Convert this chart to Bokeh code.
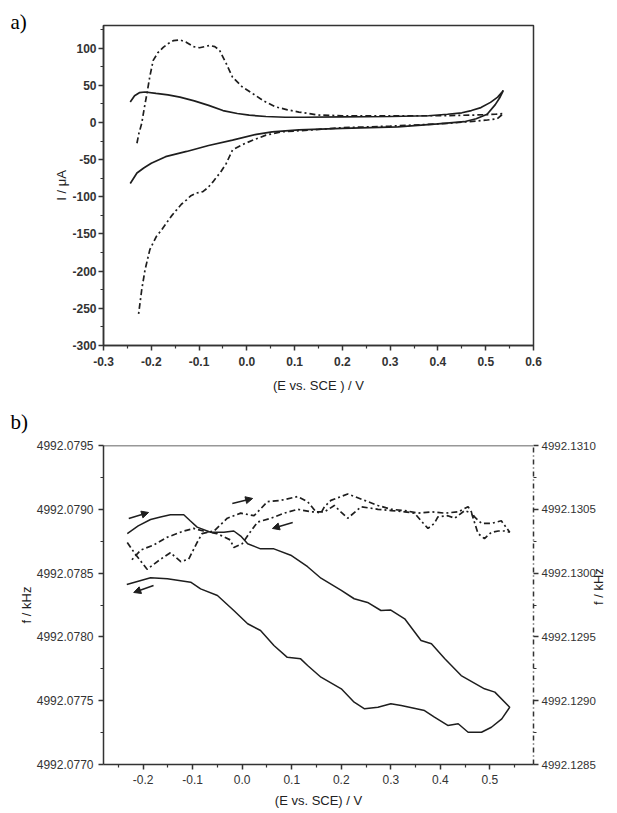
import math
from bokeh.plotting import figure
from bokeh.layouts import column
from bokeh.models import Range1d, LinearAxis, FixedTicker, Span, Title, Arrow, NormalHead
from bokeh.embed import file_html
from bokeh.resources import INLINE

# ---------------- data: panel a) cyclic voltammograms ----------------
cv_solid_E = [-0.244, -0.235, -0.225, -0.213, -0.19, -0.165, -0.14, -0.11, -0.08, -0.05, -0.02, 0.005,
              0.04, 0.08, 0.12, 0.2, 0.3, 0.38, 0.42, 0.45, 0.47, 0.49, 0.51, 0.525, 0.537,
              0.53, 0.52, 0.503, 0.48, 0.455, 0.4, 0.316, 0.2, 0.109, 0.053, 0.02, -0.03, -0.08,
              -0.126, -0.17, -0.2, -0.215, -0.23, -0.244]
cv_solid_I = [27.6, 36, 40, 41, 39, 37, 34, 29, 23, 16, 12, 9.8,
              8, 7, 7, 7.5, 8, 9, 11, 13, 16, 20, 27, 34, 43,
              34, 24, 11, 5, 1, -2, -6, -8, -10, -12.6, -16, -23.7, -31,
              -39, -46, -55, -61, -68, -82]

cv_dash_E = [-0.230, -0.226, -0.220, -0.215, -0.209, -0.203, -0.196, -0.186, -0.175, -0.165, -0.154,
             -0.14, -0.127, -0.112, -0.099, -0.088, -0.078, -0.067, -0.057, -0.043, -0.03, -0.01,
             0.012, 0.035, 0.06, 0.085, 0.109, 0.15, 0.2, 0.3, 0.4, 0.48, 0.52, 0.537,
             0.524, 0.5, 0.42, 0.3, 0.2, 0.15, 0.074, 0.04, 0.012, -0.01, -0.03, -0.043, -0.055,
             -0.064, -0.071, -0.082, -0.092, -0.106, -0.118, -0.126, -0.137, -0.147, -0.158,
             -0.168, -0.179, -0.189, -0.203, -0.213, -0.220, -0.227]
cv_dash_I = [-28, -15, -1.3, 18, 39, 62, 83.5, 94, 101, 106, 110,
             111, 108, 102, 100.5, 102, 103.6, 102, 97, 79, 61, 48,
             39, 29, 21, 17, 14, 10, 9, 9, 9, 10, 11, 12,
             5, 3, -1.3, -5, -7, -9.4, -12.6, -17, -24, -30, -37, -55, -67,
             -74, -80, -88, -93, -95, -99, -104, -110, -117.6, -126,
             -135, -145, -153, -171, -198, -225, -260]

# ---------------- data: panel b) EQCM frequency ----------------
f_solid_E = [-0.232, -0.21, -0.185, -0.165, -0.145, -0.118, -0.105, -0.091, -0.064, -0.037, -0.017,
             -0.003, 0.011, 0.037, 0.064, 0.098, 0.132, 0.159, 0.2, 0.226, 0.253, 0.28, 0.30, 0.328,
             0.361, 0.382, 0.409, 0.442, 0.489, 0.510, 0.540,
             0.524, 0.503, 0.483, 0.456, 0.436, 0.415, 0.388, 0.368, 0.321, 0.30, 0.274, 0.247,
             0.226, 0.2, 0.159, 0.132, 0.118, 0.091, 0.064, 0.037, 0.011, -0.017, -0.050, -0.084,
             -0.104, -0.151, -0.185, -0.233]
f_solid_kHz = [4992.07881, 4992.07887, 4992.07892, 4992.07894, 4992.078957, 4992.078957, 4992.07891,
               4992.07886, 4992.07882, 4992.07882, 4992.07883, 4992.07879, 4992.07873, 4992.07869,
               4992.07869, 4992.07864, 4992.07855, 4992.07846, 4992.078364, 4992.078299, 4992.07827,
               4992.078207, 4992.07821, 4992.078142, 4992.077972, 4992.077946, 4992.077828,
               4992.077697, 4992.077593, 4992.077567, 4992.077449,
               4992.077358, 4992.077292, 4992.077253, 4992.077253, 4992.077319, 4992.077306,
               4992.077371, 4992.077423, 4992.077462, 4992.077476, 4992.077449, 4992.077436,
               4992.077488, 4992.077593, 4992.077684, 4992.077776, 4992.077828, 4992.07784,
               4992.077933, 4992.07805, 4992.078103, 4992.078207, 4992.078324, 4992.078376,
               4992.078429, 4992.078455, 4992.078463, 4992.078411]

f_dash_E = [-0.232, -0.216, -0.192, -0.168, -0.145, -0.124, -0.108, -0.091, -0.081, -0.057, -0.030,
            -0.003, 0.024, 0.051, 0.078, 0.112, 0.132, 0.149, 0.159, 0.166, 0.179, 0.213, 0.247,
            0.274, 0.301, 0.328, 0.355, 0.382, 0.409, 0.436, 0.456, 0.469, 0.483, 0.503, 0.523, 0.540,
            0.530, 0.517, 0.503, 0.489, 0.476, 0.463, 0.449, 0.429, 0.415, 0.395, 0.388, 0.375,
            0.361, 0.348, 0.328, 0.301, 0.274, 0.240, 0.213, 0.199, 0.186, 0.166, 0.139, 0.112,
            0.085, 0.058, 0.031, 0.014, 0.0, -0.017, -0.024, -0.051, -0.078, -0.098, -0.118,
            -0.152, -0.179, -0.205, -0.226]
f_dash_kHz = [4992.13024, 4992.13015, 4992.13003, 4992.13010, 4992.13016, 4992.13009, 4992.13011,
              4992.13024, 4992.13031, 4992.13033, 4992.13043, 4992.13047, 4992.13045, 4992.13056,
              4992.13057, 4992.13060, 4992.13056, 4992.13048, 4992.13047, 4992.13052, 4992.13057,
              4992.13062, 4992.13057, 4992.13053, 4992.13050, 4992.13049, 4992.13047, 4992.13048,
              4992.13047, 4992.13048, 4992.13052, 4992.13044, 4992.13039, 4992.13039, 4992.13041,
              4992.13032,
              4992.13033, 4992.13033, 4992.13032, 4992.13027, 4992.13031, 4992.13047, 4992.13049,
              4992.13043, 4992.13045, 4992.13044, 4992.13039, 4992.13035, 4992.13041, 4992.13047,
              4992.13048, 4992.13049, 4992.13050, 4992.13052, 4992.13043, 4992.13048, 4992.13053,
              4992.13048, 4992.13048, 4992.13050, 4992.13047, 4992.13043, 4992.13040, 4992.13031,
              4992.13023, 4992.13020, 4992.13026, 4992.13031, 4992.13033, 4992.13035, 4992.13033,
              4992.13028, 4992.13022, 4992.13018, 4992.13009]

# scan-direction arrows (panel b, left-axis units)
arrow_x0 = [-0.229, -0.020, 0.102, -0.179]
arrow_y0 = [4992.078928, 4992.079045, 4992.078897, 4992.078403]
arrow_x1 = [-0.189, 0.021, 0.061, -0.219]
arrow_y1 = [4992.078975, 4992.079085, 4992.078850, 4992.078348]

# ---------------- ticks ----------------
a_xticks = [-0.3, -0.2, -0.1, 0.0, 0.1, 0.2, 0.3, 0.4, 0.5, 0.6]
a_xlabels = ["-0.3", "-0.2", "-0.1", "0.0", "0.1", "0.2", "0.3", "0.4", "0.5", "0.6"]
a_xminor = [-0.25, -0.15, -0.05, 0.05, 0.15, 0.25, 0.35, 0.45, 0.55]
a_yticks = [-300, -250, -200, -150, -100, -50, 0, 50, 100]
a_ylabels = ["-300", "-250", "-200", "-150", "-100", "-50", "0", "50", "100"]
a_yminor = [-275, -225, -175, -125, -75, -25, 25, 75, 125]

b_xticks = [-0.2, -0.1, 0.0, 0.1, 0.2, 0.3, 0.4, 0.5]
b_xlabels = ["-0.2", "-0.1", "0.0", "0.1", "0.2", "0.3", "0.4", "0.5"]
b_xminor = [-0.25, -0.15, -0.05, 0.05, 0.15, 0.25, 0.35, 0.45, 0.55]
b_lticks = [4992.0770, 4992.0775, 4992.0780, 4992.0785, 4992.0790, 4992.0795]
b_llabels = ["4992.0770", "4992.0775", "4992.0780", "4992.0785", "4992.0790", "4992.0795"]
b_lminor = [4992.07725, 4992.07775, 4992.07825, 4992.07875, 4992.07925]
b_rticks = [4992.1285, 4992.1290, 4992.1295, 4992.1300, 4992.1305, 4992.1310]
b_rlabels = ["4992.1285", "4992.1290", "4992.1295", "4992.1300", "4992.1305", "4992.1310"]
b_rminor = [4992.12875, 4992.12925, 4992.12975, 4992.13025, 4992.13075]

INK = "#1e1e1e"
AX = "#333333"
DASHDOT = "6 3 2 3"


def style_axis(ax, ticks, minor, labels, bold=False):
    ax.ticker = FixedTicker(ticks=ticks, minor_ticks=minor)
    ax.major_label_overrides = dict(zip(ticks, labels))
    ax.axis_line_color = AX
    ax.axis_line_width = 1.5
    ax.major_tick_line_color = AX
    ax.major_tick_line_width = 1.5
    ax.minor_tick_line_color = AX
    ax.minor_tick_line_width = 1.2
    ax.major_tick_out = 5
    ax.major_tick_in = 0
    ax.minor_tick_out = 3
    ax.minor_tick_in = 0
    ax.major_label_text_font = "Liberation Sans"
    ax.major_label_text_font_size = "12px"
    ax.major_label_text_font_style = "bold" if bold else "normal"
    ax.major_label_text_color = AX
    ax.major_label_standoff = 3
    ax.axis_label_text_font = "Liberation Sans"
    ax.axis_label_text_font_size = "13px"
    ax.axis_label_text_font_style = "normal"
    ax.axis_label_text_color = "#222222"


# ---------------- panel a ----------------
p1 = figure(width=617, height=395, x_range=Range1d(-0.3, 0.6), y_range=Range1d(-300, 130.4),
            output_backend="svg", toolbar_location=None,
            min_border_left=103, min_border_right=84, min_border_top=25, min_border_bottom=48)
p1.grid.visible = False
p1.outline_line_color = AX
p1.outline_line_width = 1.5
p1.outline_line_alpha = 1.0
p1.background_fill_color = "white"
p1.border_fill_color = "white"

p1.line(cv_solid_E, cv_solid_I, line_color=INK, line_width=1.7)
p1.line(cv_dash_E, cv_dash_I, line_color=INK, line_width=1.7, line_dash=DASHDOT)

style_axis(p1.xaxis[0], a_xticks, a_xminor, a_xlabels, bold=True)
style_axis(p1.yaxis[0], a_yticks, a_yminor, a_ylabels, bold=True)
p1.xaxis[0].axis_label = "(E vs. SCE ) / V"
p1.xaxis[0].major_label_standoff = 6
p1.xaxis[0].axis_label_standoff = 9
p1.yaxis[0].axis_label = "I / μA"
p1.yaxis[0].major_label_standoff = 2
p1.yaxis[0].axis_label_standoff = 0

p1.add_layout(Title(text="a)", align="left", offset=-93, standoff=-16, vertical_align="bottom",
                    text_font="Liberation Serif", text_font_size="21px", text_font_style="normal",
                    text_color="black"), "above")

# ---------------- panel b ----------------
p2 = figure(width=617, height=418, x_range=Range1d(-0.280, 0.588), y_range=Range1d(4992.0770, 4992.0795),
            output_backend="svg", toolbar_location=None,
            min_border_left=103, min_border_right=84, min_border_top=50, min_border_bottom=49)
p2.grid.visible = False
p2.outline_line_color = None
p2.background_fill_color = "white"
p2.border_fill_color = "white"
p2.extra_y_ranges = {"right": Range1d(4992.1285, 4992.1310)}

p2.line(f_solid_E, f_solid_kHz, line_color=INK, line_width=1.5)
p2.line(f_dash_E, f_dash_kHz, line_color=INK, line_width=1.7, line_dash=DASHDOT, y_range_name="right")

style_axis(p2.xaxis[0], b_xticks, b_xminor, b_xlabels)
style_axis(p2.yaxis[0], b_lticks, b_lminor, b_llabels)
p2.xaxis[0].axis_label = "(E vs. SCE) / V"
p2.xaxis[0].major_label_standoff = 5
p2.xaxis[0].axis_label_standoff = 6
p2.yaxis[0].axis_label = "f / kHz"
p2.yaxis[0].major_label_standoff = 5
p2.yaxis[0].axis_label_standoff = 0

raxis = LinearAxis(y_range_name="right")
style_axis(raxis, b_rticks, b_rminor, b_rlabels)
raxis.axis_line_dash = "5 3 1 3"
raxis.major_label_text_font_size = "11.5px"
raxis.major_label_standoff = 3
raxis.axis_label = "f / kHz"
raxis.axis_label_standoff = 0
try:
    raxis.axis_label_orientation = math.pi / 2
except Exception:
    pass
p2.add_layout(raxis, "right")

p2.add_layout(Span(location=4992.0795, dimension="width", line_color=AX, line_width=1.5))

for i in range(len(arrow_x0)):
    p2.add_layout(Arrow(end=NormalHead(size=7, fill_color=INK, line_color=INK),
                        x_start=arrow_x0[i], y_start=arrow_y0[i],
                        x_end=arrow_x1[i], y_end=arrow_y1[i],
                        line_color=INK, line_width=1.5))

p2.add_layout(Title(text="b)", align="left", offset=-93, standoff=24, vertical_align="bottom",
                    text_font="Liberation Serif", text_font_size="21px", text_font_style="normal",
                    text_color="black"), "above")

layout = column(p1, p2, spacing=0)
open("out.html", "w").write(file_html(layout, INLINE))
